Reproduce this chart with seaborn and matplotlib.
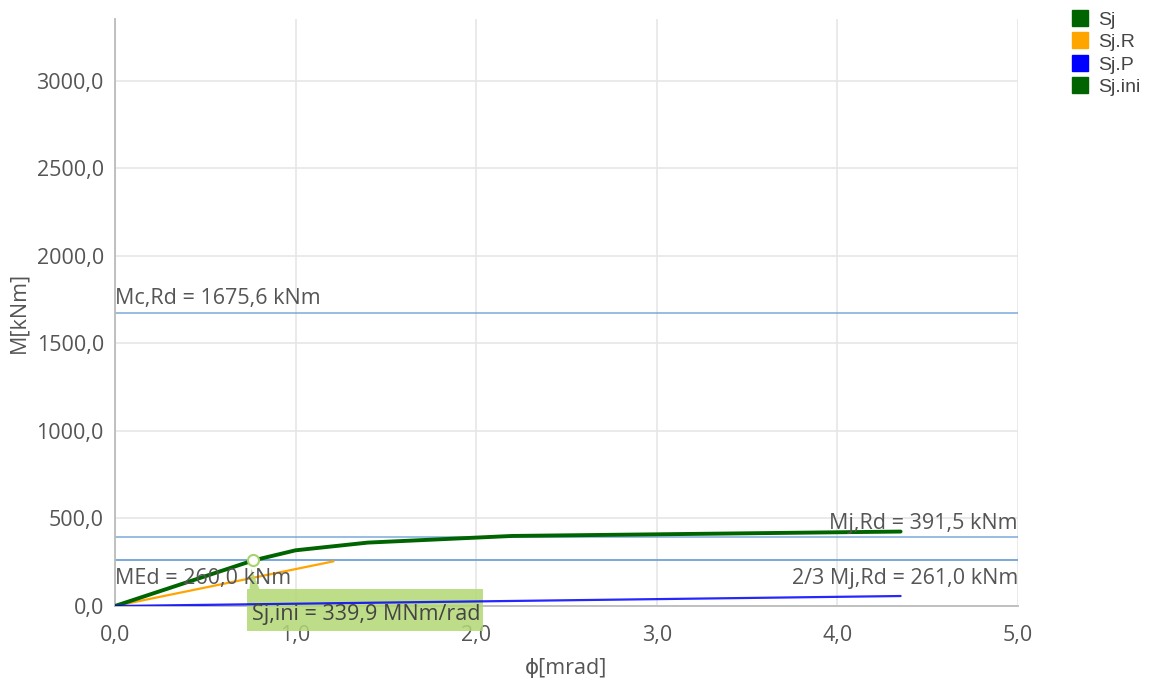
import matplotlib
matplotlib.use("Agg")
import matplotlib.pyplot as plt
import seaborn as sns
import pandas as pd
from matplotlib.lines import Line2D
from matplotlib.patches import Rectangle, Polygon

# ---- data ----
phi_sj = [0.0, 0.765, 1.0, 1.4, 2.2, 4.35]
m_sj = [0.0, 260.0, 318.0, 362.0, 400.0, 425.0]
phi_sjr = [0.0, 1.21]
m_sjr = [0.0, 255.0]
phi_sjp = [0.0, 4.35]
m_sjp = [0.0, 57.0]

mc_rd = 1675.6
mj_rd = 391.5
mj_rd_23 = 261.0
m_ed = 260.0
sj_ini_phi = 0.765
sj_ini_m = 260.0

series_names = ["Sj", "Sj.R", "Sj.P", "Sj.ini"]
series_colors = ["#006400", "#FFA500", "#0000FF", "#006400"]
x_ticks = [0.0, 1.0, 2.0, 3.0, 4.0, 5.0]
y_ticks = [0.0, 500.0, 1000.0, 1500.0, 2000.0, 2500.0, 3000.0]

sns.set_theme(style="white")
plt.rcParams['font.family'] = ['Open Sans', 'DejaVu Sans']

fig = plt.figure(figsize=(11.53, 6.79), dpi=100)
ax = fig.add_axes([0.0997, 0.1075, 0.7832, 0.8645])

txt_col = "#555555"
line_col = "#6fa3d8"
fs = 15.5

df_sj = pd.DataFrame({"phi": phi_sj, "M": m_sj})
df_r = pd.DataFrame({"phi": phi_sjr, "M": m_sjr})
df_p = pd.DataFrame({"phi": phi_sjp, "M": m_sjp})

# horizontal reference lines
for yv in [mc_rd, mj_rd, mj_rd_23, m_ed]:
    ax.axhline(yv, color=line_col, lw=1.2, alpha=0.85, zorder=2)

sns.lineplot(data=df_r, x="phi", y="M", ax=ax, color="#FFA500", lw=1.6,
             sort=False, zorder=4)
sns.lineplot(data=df_p, x="phi", y="M", ax=ax, color="#0000FF", lw=1.6,
             alpha=0.85, sort=False, zorder=6)
sns.lineplot(data=df_sj, x="phi", y="M", ax=ax, color="#006400", lw=2.8,
             sort=False, zorder=5)

ax.set_xlim(0, 5.0)
ax.set_ylim(0, 2 * mc_rd)
ax.set_xticks(x_ticks)
ax.set_yticks(y_ticks)
ax.set_xticklabels([f"{v:.1f}".replace(".", ",") for v in x_ticks])
ax.set_yticklabels([f"{v:.1f}".replace(".", ",") for v in y_ticks])
ax.tick_params(axis="both", labelsize=fs, colors=txt_col, length=6,
               width=1, color="#bbbbbb")
ax.tick_params(axis="x", pad=8)
ax.tick_params(axis="y", pad=2)
ax.grid(True, color="#e6e6e6", lw=1.2)
ax.set_axisbelow(True)
for s in ["top", "right"]:
    ax.spines[s].set_visible(False)
for s in ["left", "bottom"]:
    ax.spines[s].set_color("#bbbbbb")
    ax.spines[s].set_linewidth(1.3)

ax.set_xlabel("ϕ[mrad]", fontsize=fs, color=txt_col, labelpad=8)
ax.set_ylabel("M[kNm]", fontsize=fs, color=txt_col, labelpad=5)

# line labels
ax.text(0.0, mc_rd + 22, "Mc,Rd = 1675,6 kNm", ha="left", va="bottom",
        fontsize=fs, color=txt_col, zorder=7)
ax.text(0.0, m_ed - 45, "MEd = 260,0 kNm", ha="left", va="top",
        fontsize=fs, color=txt_col, zorder=7)
ax.text(5.0, mj_rd + 22, "Mj,Rd = 391,5 kNm", ha="right", va="bottom",
        fontsize=fs, color=txt_col, zorder=7)
ax.text(5.0, mj_rd_23 - 45, "2/3 Mj,Rd = 261,0 kNm", ha="right", va="top",
        fontsize=fs, color=txt_col, zorder=7)

# marker at Sj,ini point
ax.plot([sj_ini_phi], [sj_ini_m], marker="o", ms=8, mfc="white",
        mec="#a5d46a", mew=1.5, zorder=9, clip_on=False)

# callout box
box_col = "#b3d873"
bx0, bx1 = 0.73, 2.04
by0, by1 = -143.0, 97.0
ax.add_patch(Rectangle((bx0, by0), bx1 - bx0, by1 - by0, facecolor=box_col,
                       edgecolor="none", alpha=0.85, zorder=5.5, clip_on=False))
ax.add_patch(Polygon([[0.745, by1], [0.80, by1], [0.755, 215.0]],
                     closed=True, facecolor=box_col, edgecolor="none",
                     alpha=0.85, zorder=5.5, clip_on=False))
ax.text(bx0 + 0.03, (by0 + by1) / 2 - 25, "Sj,ini = 339,9 MNm/rad",
        ha="left", va="center", fontsize=fs, color="#444444", zorder=8,
        clip_on=False)

# legend
handles = [Line2D([0], [0], marker="s", color="none", markerfacecolor=c,
                  markeredgecolor=c, markersize=11) for c in series_colors]
fig.legend(handles, series_names, loc="upper left",
           bbox_to_anchor=(0.923, 0.995), frameon=False,
           prop={"family": "Liberation Sans", "size": 14},
           handlelength=0.8, handletextpad=0.55, labelspacing=0.25,
           labelcolor="#444444", borderaxespad=0)

fig.savefig("out.png", dpi=100)
